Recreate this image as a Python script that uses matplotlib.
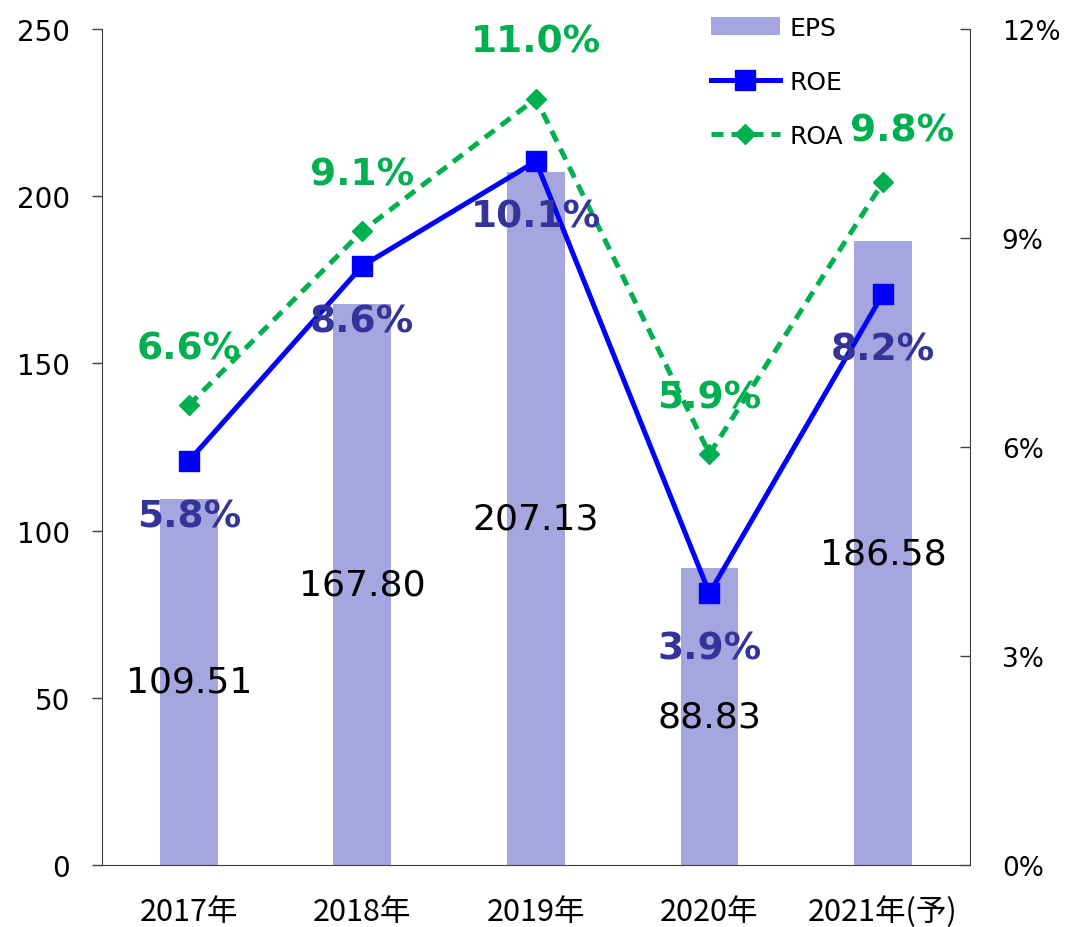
import numpy as np
import matplotlib.pyplot as plt
from matplotlib.ticker import PercentFormatter

years = ['2017年', '2018年', '2019年', '2020年', '2021年(予)']
eps = [109.51, 167.80, 207.13, 88.83, 186.58]
roe = [5.8, 8.6, 10.1, 3.9, 8.2]
roa = [6.6, 9.1, 11.0, 5.9, 9.8]

bar_color = '#A5A5DF'
roe_color = '#0000FF'
roe_text = '#333399'
roa_color = '#00B050'

plt.rcParams['font.family'] = ['DejaVu Sans']

fig = plt.figure(figsize=(10.74, 9.28), dpi=100)
ax = fig.add_axes([0.095, 0.0668, 0.808, 0.9009])
ax2 = ax.twinx()

x = np.arange(len(years))
bars = ax.bar(x, eps, width=0.334, color=bar_color, label='EPS', zorder=1)
ax.set_xlim(-0.5, len(years) - 0.5)
ax.set_ylim(0, 250)
ax.set_yticks(np.arange(0, 251, 50))
ax.set_xticks(x)
ax.set_xticklabels(years, fontsize=22, family=['Noto Sans CJK JP', 'DejaVu Sans'])
ax.tick_params(axis='x', length=0, pad=22)
ax.tick_params(axis='y', direction='out', length=7, width=1, labelsize=20,
               pad=16, color='#404040')
for s in ['top', 'right']:
    ax.spines[s].set_visible(False)
ax.spines['left'].set_color('#404040')
ax.spines['bottom'].set_color('#404040')

for xi, v in zip(x, eps):
    ax.text(xi, v / 2, f'{v:.2f}', ha='center', va='center', fontsize=26,
            color='black', zorder=5)

l1, = ax2.plot(x, roe, color=roe_color, lw=3.6, marker='s', ms=14,
               label='ROE', zorder=3)
l2, = ax2.plot(x, roa, color=roa_color, lw=3.6, ls=(0, (2.4, 1.6)), marker='D',
               ms=10, label='ROA', zorder=3)
ax2.set_ylim(0, 12)
ax2.set_yticks(np.arange(0, 12.1, 3))
ax2.yaxis.set_major_formatter(PercentFormatter(decimals=0))
ax2.tick_params(axis='y', direction='in', length=7, width=1, labelsize=19,
                pad=23, color='#404040')
for s in ['top', 'left', 'bottom']:
    ax2.spines[s].set_visible(False)
ax2.spines['right'].set_color('#404040')

for xi, v in zip(x, roe):
    ax2.annotate(f'{v:.1f}%', (xi, v), xytext=(0, -40), textcoords='offset points',
                 ha='center', va='center', fontsize=27, fontweight='bold',
                 color=roe_text, zorder=6)
roa_offsets = [(0, 41), (0, 41), (0, 41), (0, 41), (14, 37)]
for xi, v, off in zip(x, roa, roa_offsets):
    ax2.annotate(f'{v:.1f}%', (xi, v), xytext=off, textcoords='offset points',
                 ha='center', va='center', fontsize=27, fontweight='bold',
                 color=roa_color, zorder=6)

fig.legend([bars, l1, l2], ['EPS', 'ROE', 'ROA'], loc='upper left',
           bbox_to_anchor=(0.655, 0.99), frameon=False, fontsize=18,
           handlelength=2.75, labelspacing=1.2, handletextpad=0.4,
           borderaxespad=0.0, borderpad=0.3)

fig.savefig('out.png', dpi=100)
